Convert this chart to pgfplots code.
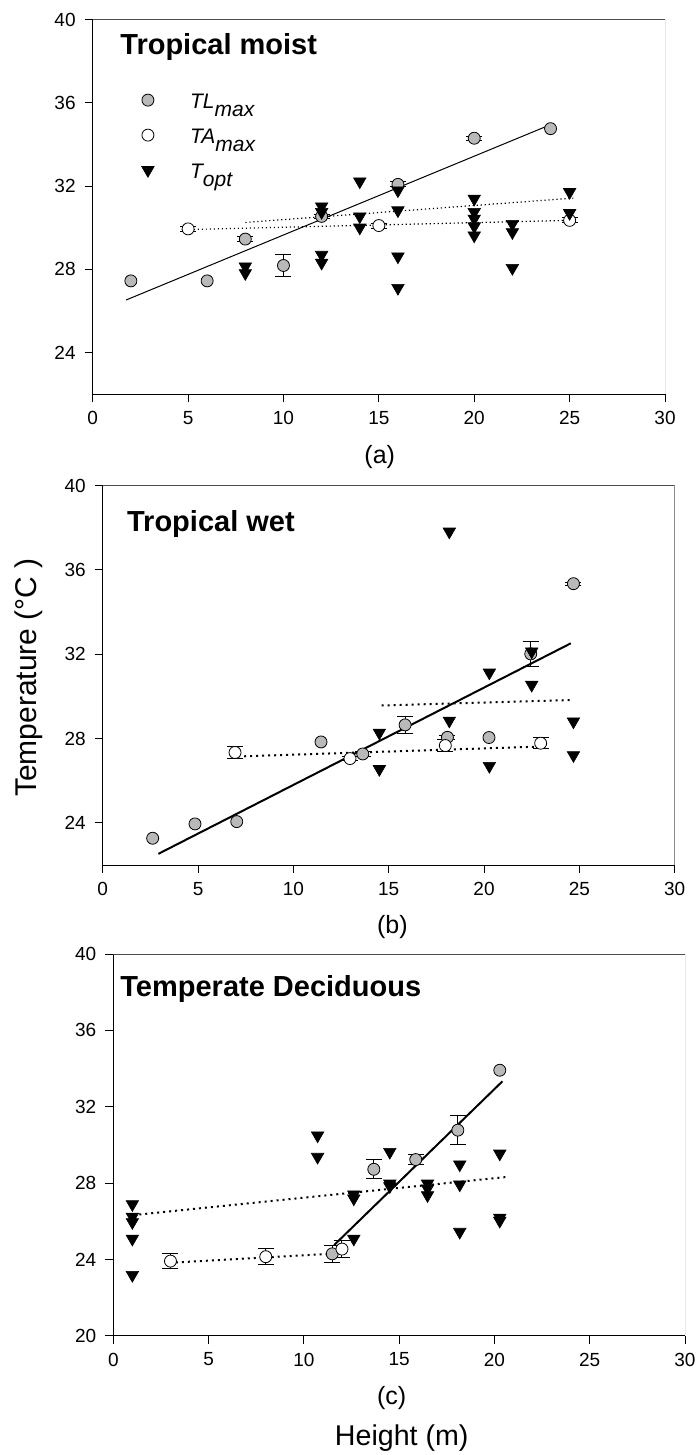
\documentclass[border=0pt]{standalone}
\usepackage{pgfplots}
\pgfplotsset{compat=1.18}
\usepackage{fontspec}
\setmainfont{Liberation Sans}

\pgfplotsset{
  panel/.style={
    scale only axis, anchor=north west,
    xmin=0, xmax=30, xtick={0,5,...,30},
    axis lines=left, axis line style={-, black, line width=0.5pt},
    tick align=outside, major tick length=4pt,
    tick style={black, line width=0.5pt},
    tick label style={font=\fontsize{9.5}{11}\selectfont},
    /pgf/number format/assume math mode=true,
    xticklabel style={yshift=-1pt},
    yticklabel style={xshift=-1pt},
  },
  tl/.style={only marks, mark=*, mark size=3pt, mark options={fill=gray!55, draw=black, line width=0.4pt}},
  ta/.style={only marks, mark=*, mark size=3pt, mark options={fill=white, draw=black, line width=0.4pt}},
  to/.style={only marks, mark=triangle*, mark size=3.6pt, mark options={rotate=180, fill=black, draw=black, line width=0.3pt}},
  eb/.style={error bars/y dir=both, error bars/y explicit, error bars/error bar style={line width=0.5pt, black}, error bars/error mark options={rotate=90, mark size=4pt, line width=0.5pt, black}},
  solidA/.style={black, line width=0.5pt, no marks, forget plot},
  dotA/.style={black, line width=0.6pt, dash pattern=on 0.6pt off 1.4pt, no marks, forget plot},
  solidB/.style={black, line width=1pt, no marks, forget plot},
  dotB/.style={black, line width=1pt, dash pattern=on 1pt off 2pt, no marks, forget plot},
}

\begin{document}
\begin{tikzpicture}
\path[use as bounding box] (0,0) rectangle (349.5pt,-727.5pt);

% ---------------- (a) Tropical moist
\begin{axis}[panel, at={(46.35pt,-9.85pt)}, width=286.15pt, height=187.15pt,
  ymin=22, ymax=40, ytick={24,28,32,36,40},
  legend style={draw=none, fill=none, inner sep=0pt, at={(rel axis cs:0.0849,0.806)}, anchor=north west,
    font=\fontsize{10.5}{12}\selectfont, row sep=4.5pt,
    nodes={inner sep=0pt, text height=8pt, text depth=5pt},
    /tikz/every odd column/.append style={column sep=18pt}},
  legend cell align=left,
  legend image code/.code={\draw[#1] plot coordinates {(0pt,2.8pt)};},
]
\addplot[solidA] coordinates {(1.75,26.52) (23.81,34.88)};
\addplot[dotA] coordinates {(4.67,29.90) (25.4,30.36)};
\addplot[dotA] coordinates {(8,30.25) (25.2,31.42)};
\addplot[tl] table {
x y
2 27.44
6 27.44
24 34.76
};
\addlegendentry{\itshape TL\raisebox{-3.8pt}{max}}
\addplot[tl, eb, forget plot] table[y error=e] {
x y e
8 29.45 0.12
10 28.18 0.54
12 30.54 0.10
16 32.08 0.12
20 34.30 0.10
};
\addplot[ta, eb] table[y error=e] {
x y e
5 29.94 0.12
15 30.10 0.12
25 30.35 0.12
};
\addlegendentry{\itshape TA\raisebox{-3.8pt}{max}}
\addplot[to] table {
x y
8 28.13
8 27.81
12 31.02
12 30.75
12 28.69
12 28.31
14 32.22
14 30.54
14 30.00
16 31.79
16 30.83
16 28.61
16 27.10
20 31.39
20 30.75
20 30.43
20 30.06
20 29.62
22 30.18
22 29.78
22 28.06
25 31.71
25 30.70
};
\addlegendentry{\itshape T\raisebox{-3.8pt}{opt}}
\draw[gray!60!black, line width=0.5pt] (rel axis cs:0,1) -- (rel axis cs:1,1) -- (rel axis cs:1,0);
\end{axis}

% ---------------- (b) Tropical wet
\begin{axis}[panel, at={(51.35pt,-242.85pt)}, width=286pt, height=189.65pt,
  ymin=22, ymax=40, ytick={24,28,32,36,40}]
\addplot[solidB] coordinates {(2.92,22.53) (24.55,32.52)};
\addplot[dotB] coordinates {(7.1,27.15) (22.9,27.62)};
\addplot[dotB] coordinates {(14.63,29.57) (24.6,29.83)};
\addplot[tl] table {
x y
2.62 23.27
4.84 23.95
7.03 24.06
11.45 27.84
20.26 28.05
};
\addplot[tl, eb] table[y error=e] {
x y e
13.64 27.27 0.10
15.86 28.65 0.40
18.08 28.06 0.10
22.45 32.02 0.59
24.69 35.35 0.08
};
\addplot[ta, eb] table[y error=e] {
x y e
6.94 27.34 0.27
12.97 27.05 0.10
17.97 27.67 0.28
22.97 27.78 0.26
};
\addplot[to] table {
x y
14.51 28.28
14.51 26.55
18.18 37.82
18.18 28.85
20.28 31.13
20.28 26.70
22.50 32.13
22.50 30.55
24.69 28.81
24.69 27.21
};
\draw[gray!60!black, line width=0.5pt] (rel axis cs:0,1) -- (rel axis cs:1,1) -- (rel axis cs:1,0);
\end{axis}

% ---------------- (c) Temperate Deciduous
\begin{axis}[panel, at={(56.65pt,-477pt)}, width=285.85pt, height=190.85pt,
  ymin=20, ymax=40, ytick={20,24,28,32,36,40}]
\addplot[solidB] coordinates {(11.59,24.75) (20.42,33.33)};
\addplot[dotB] coordinates {(2.97,23.82) (11.7,24.31)};
\addplot[dotB] coordinates {(1.05,26.32) (20.66,28.32)};
\addplot[tl] table {
x y
20.28 33.91
};
\addplot[tl, eb] table[y error=e] {
x y e
11.49 24.29 0.45
13.67 28.72 0.49
15.87 29.23 0.24
18.08 30.77 0.75
};
\addplot[ta, eb] table[y error=e] {
x y e
3 23.91 0.40
8 24.14 0.43
12 24.54 0.44
};
\addplot[to] table {
x y
1 26.89
1 26.23
1 25.95
1 25.08
1 23.18
10.72 30.49
10.72 29.37
12.62 27.40
12.62 27.19
12.62 25.08
14.51 29.63
14.51 27.97
14.51 27.83
16.49 27.97
16.49 27.71
16.49 27.36
18.18 28.97
18.18 27.92
18.18 25.44
20.28 29.54
20.28 26.18
20.28 26.02
};
\draw[gray!60!black, line width=0.5pt] (rel axis cs:0,1) -- (rel axis cs:1,1) -- (rel axis cs:1,0);
\end{axis}

% ---------------- texts
\node[anchor=base west, inner sep=0pt, font=\fontsize{14.5}{17}\selectfont\bfseries] at (60pt,-27.15pt) {Tropical moist};
\node[anchor=base west, inner sep=0pt, font=\fontsize{14.5}{17}\selectfont\bfseries] at (63.35pt,-265.85pt) {Tropical wet};
\node[anchor=base west, inner sep=0pt, font=\fontsize{14.5}{17}\selectfont\bfseries] at (60pt,-498.35pt) {Temperate Deciduous};
\node[font=\fontsize{12.5}{15}\selectfont, inner sep=0pt] at (189.85pt,-228.65pt) {(a)};
\node[font=\fontsize{12.5}{15}\selectfont, inner sep=0pt] at (196.15pt,-463.65pt) {(b)};
\node[font=\fontsize{12.5}{15}\selectfont, inner sep=0pt] at (195.85pt,-699pt) {(c)};
\node[font=\fontsize{14.3}{17}\selectfont, inner sep=0pt] at (200.85pt,-719pt) {Height (m)};
\node[rotate=90, font=\fontsize{15}{18}\selectfont, inner sep=0pt] at (14.5pt,-338.75pt) {Temperature (°C )};
\end{tikzpicture}
\end{document}
